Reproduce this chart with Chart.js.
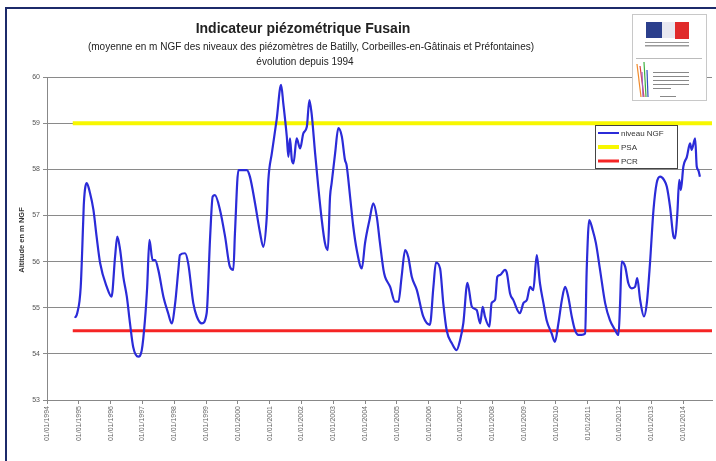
<!DOCTYPE html>
<html>
<head>
<meta charset="utf-8">
<script src="https://cdn.jsdelivr.net/npm/chart.js@4.4.1/dist/chart.umd.min.js"></script>
<style>
  html, body { margin: 0; padding: 0; background: #fff; }
  #wrap { width: 716px; height: 461px; position: relative; }
</style>
</head>
<body>
<div id="wrap"><canvas id="chart" width="716" height="461"></canvas></div>
<script>
// dates as decimal years, levels in m NGF
const dates = [
  1994.88, 1994.95, 1995.06, 1995.14, 1995.16, 1995.25, 1995.35, 1995.46, 1995.56, 1995.67,
  1995.88, 1996.03, 1996.14, 1996.21, 1996.30, 1996.40, 1996.51, 1996.61, 1996.71, 1996.87,
  1996.98, 1997.08, 1997.15, 1997.22, 1997.32, 1997.40, 1997.50, 1997.66, 1997.81, 1997.92,
  1998.03, 1998.13, 1998.18, 1998.34, 1998.44, 1998.60, 1998.71, 1998.87, 1999.02, 1999.13,
  1999.21, 1999.28, 1999.44, 1999.60, 1999.75, 1999.86, 1999.91, 2000.02, 2000.28, 2000.38,
  2000.54, 2000.70, 2000.80, 2000.91, 2000.96, 2001.07, 2001.22, 2001.36, 2001.43, 2001.54,
  2001.59, 2001.64, 2001.70, 2001.75, 2001.85, 2001.96, 2002.06, 2002.17, 2002.25, 2002.32,
  2002.43, 2002.53, 2002.64, 2002.74, 2002.83, 2002.90, 2002.95, 2003.06, 2003.16, 2003.27,
  2003.37, 2003.42, 2003.53, 2003.63, 2003.74, 2003.90, 2004.00, 2004.14, 2004.26, 2004.37,
  2004.47, 2004.58, 2004.63, 2004.79, 2004.94, 2005.05, 2005.15, 2005.26, 2005.36, 2005.47,
  2005.63, 2005.83, 2006.04, 2006.15, 2006.23, 2006.36, 2006.46, 2006.57, 2006.73, 2006.88,
  2006.99, 2007.09, 2007.22, 2007.36, 2007.51, 2007.62, 2007.70, 2007.77, 2007.91, 2007.98,
  2008.09, 2008.16, 2008.25, 2008.40, 2008.46, 2008.56, 2008.66, 2008.87, 2008.98, 2009.09,
  2009.19, 2009.29, 2009.40, 2009.50, 2009.61, 2009.71, 2009.87, 2009.97, 2010.08, 2010.19,
  2010.29, 2010.39, 2010.50, 2010.60, 2010.71, 2010.81, 2010.92, 2010.97, 2011.05, 2011.16,
  2011.26, 2011.39, 2011.55, 2011.70, 2011.86, 2011.97, 2012.02, 2012.07, 2012.18, 2012.28,
  2012.39, 2012.49, 2012.56, 2012.65, 2012.77, 2012.86, 2012.96, 2013.07, 2013.17, 2013.28,
  2013.40, 2013.49, 2013.59, 2013.70, 2013.75, 2013.82, 2013.88, 2013.93, 2014.01, 2014.12,
  2014.22, 2014.27, 2014.38, 2014.43, 2014.48, 2014.53
];
const niveauNGF = [
  54.78, 54.88, 55.45, 56.90, 57.27, 57.70, 57.49, 57.12, 56.54, 55.97,
  55.45, 55.24, 56.10, 56.54, 56.25, 55.67, 55.24, 54.66, 54.15, 53.94,
  54.08, 54.73, 55.45, 56.47, 56.03, 56.03, 55.82, 55.24, 54.88, 54.66,
  55.10, 55.82, 56.14, 56.18, 55.96, 55.10, 54.81, 54.66, 54.88, 56.54,
  57.41, 57.44, 57.12, 56.54, 55.89, 55.82, 56.62, 57.98, 57.98, 57.84,
  57.27, 56.62, 56.32, 56.97, 57.77, 58.35, 59.07, 59.83, 59.43, 58.71,
  58.27, 58.67, 58.20, 58.13, 58.67, 58.45, 58.78, 58.92, 59.50, 59.21,
  58.35, 57.62, 56.90, 56.40, 56.25, 57.41, 57.70, 58.35, 58.89, 58.71,
  58.20, 58.09, 57.41, 56.76, 56.25, 55.85, 56.40, 56.90, 57.26, 56.97,
  56.40, 55.82, 55.67, 55.45, 55.13, 55.13, 55.67, 56.25, 56.10, 55.67,
  55.38, 54.81, 54.63, 55.45, 55.98, 55.85, 55.10, 54.50, 54.23, 54.08,
  54.30, 54.66, 55.54, 55.02, 54.95, 54.66, 55.02, 54.81, 54.59, 55.10,
  55.17, 55.67, 55.71, 55.82, 55.75, 55.31, 55.17, 54.88, 55.10, 55.17,
  55.45, 55.38, 56.14, 55.53, 55.10, 54.73, 54.44, 54.26, 54.66, 55.17,
  55.45, 55.24, 54.81, 54.52, 54.41, 54.41, 54.44, 55.82, 56.90, 56.68,
  56.40, 55.82, 55.10, 54.73, 54.52, 54.41, 55.10, 56.00, 55.89, 55.53,
  55.42, 55.45, 55.64, 55.17, 54.81, 55.10, 55.96, 57.12, 57.70, 57.84,
  57.77, 57.62, 57.19, 56.54, 56.50, 57.04, 57.77, 57.55, 58.06, 58.27,
  58.56, 58.42, 58.67, 58.06, 57.98, 57.84
];
const thresholdDates = [1994.81, 2014.91];
const psaValues = [59, 59];
const pcrValues = [54.5, 54.5];
const yearTicks = [1994, 1995, 1996, 1997, 1998, 1999, 2000, 2001, 2002, 2003, 2004,
  2005, 2006, 2007, 2008, 2009, 2010, 2011, 2012, 2013, 2014];
const legendLabels = ['niveau NGF', 'PSA', 'PCR'];

const BLUE = '#2b2bd8';
const YELLOW = '#f7f700';
const RED = '#f52424';
const FONT = "'Liberation Sans', Arial, sans-serif";

const toPoints = (xs, ys) => xs.map((x, i) => ({ x, y: ys[i] }));

// titles, logo, in-plot legend and frame
const decor = {
  id: 'decor',
  afterDraw(chart) {
    const ctx = chart.ctx;
    ctx.save();
    ctx.fillStyle = '#222';
    ctx.textAlign = 'center';
    ctx.textBaseline = 'middle';
    ctx.font = `bold 14px ${FONT}`;
    ctx.fillText('Indicateur piézométrique Fusain', 303, 29);
    ctx.font = `10px ${FONT}`;
    ctx.fillText('(moyenne en m NGF des niveaux des piézomètres de Batilly, Corbeilles-en-Gâtinais et Préfontaines)', 311, 47);
    ctx.fillText('évolution depuis 1994', 305, 62);

    // y axis title
    ctx.save();
    ctx.translate(22, 240);
    ctx.rotate(-Math.PI / 2);
    ctx.font = `bold 7.5px ${FONT}`;
    ctx.fillStyle = '#333';
    ctx.fillText('Altitude en m NGF', 0, 0);
    ctx.restore();

    // logo
    ctx.fillStyle = '#fff';
    ctx.fillRect(632, 14, 74, 86);
    ctx.strokeStyle = '#c8c8c8';
    ctx.lineWidth = 1;
    ctx.strokeRect(632.5, 14.5, 74, 86);
    ctx.fillStyle = '#2b3f8c';
    ctx.fillRect(646, 22, 16, 16);
    ctx.fillStyle = '#e8e8f0';
    ctx.fillRect(662, 22, 13, 16);
    ctx.fillStyle = '#e02a2a';
    ctx.fillRect(675, 22, 14, 17);
    ctx.fillStyle = '#999';
    ctx.fillRect(645, 42, 44, 1);
    ctx.fillRect(645, 45, 44, 1.5);
    ctx.fillStyle = '#bbb';
    ctx.fillRect(636, 58, 66, 1);
    const strokes = [['#f08a2a', 637, 64, 641, 97], ['#e04040', 640, 66, 644, 97],
      ['#40b040', 644, 62, 646, 97], ['#3050c0', 647, 70, 648, 97], ['#a060c0', 642, 72, 643, 97]];
    ctx.lineWidth = 1.2;
    strokes.forEach(([c, x1, y1, x2, y2]) => {
      ctx.strokeStyle = c;
      ctx.beginPath();
      ctx.moveTo(x1, y1);
      ctx.lineTo(x2, y2);
      ctx.stroke();
    });
    ctx.fillStyle = '#888';
    [72, 76, 80, 84, 88].forEach((y, i) => ctx.fillRect(653, y, i === 4 ? 18 : 36, 1));
    ctx.fillRect(660, 96, 16, 1);

    // legend box
    const lx = 595, ly = 125, lw = 82, lh = 43;
    ctx.fillStyle = '#fff';
    ctx.fillRect(lx, ly, lw, lh);
    ctx.strokeStyle = '#444';
    ctx.lineWidth = 1;
    ctx.strokeRect(lx + 0.5, ly + 0.5, lw, lh);
    const colors = [BLUE, YELLOW, RED];
    const widths = [2, 4, 3];
    ctx.textAlign = 'left';
    ctx.font = `8px ${FONT}`;
    legendLabels.forEach((t, i) => {
      const y = ly + 8 + i * 14;
      ctx.strokeStyle = colors[i];
      ctx.lineWidth = widths[i];
      ctx.beginPath();
      ctx.moveTo(lx + 3, y);
      ctx.lineTo(lx + 24, y);
      ctx.stroke();
      ctx.fillStyle = '#333';
      ctx.fillText(t, lx + 26, y + 0.5);
    });

    // outer frame
    ctx.strokeStyle = '#1c2a6a';
    ctx.lineWidth = 2;
    ctx.strokeRect(6, 8, 720, 470);
    ctx.restore();
  }
};

new Chart(document.getElementById('chart'), {
  type: 'line',
  data: {
    datasets: [
      {
        label: legendLabels[0],
        data: toPoints(dates, niveauNGF),
        borderColor: BLUE,
        borderWidth: 2.2,
        pointRadius: 0,
        cubicInterpolationMode: 'monotone',
      },
      {
        label: legendLabels[1],
        data: toPoints(thresholdDates, psaValues),
        borderColor: YELLOW,
        borderWidth: 4,
        pointRadius: 0,
      },
      {
        label: legendLabels[2],
        data: toPoints(thresholdDates, pcrValues),
        borderColor: RED,
        borderWidth: 3,
        pointRadius: 0,
      },
    ],
  },
  options: {
    responsive: false,
    animation: false,
    layout: { padding: { left: 12, top: 77, right: 4, bottom: 0 } },
    scales: {
      x: {
        type: 'linear',
        min: 1994,
        max: 2014.91,
        afterBuildTicks: (scale) => { scale.ticks = yearTicks.map(v => ({ value: v })); },
        afterFit: (scale) => { scale.height = 61; },
        ticks: {
          callback: (v) => `01/01/${v}`,
          minRotation: 90,
          maxRotation: 90,
          autoSkip: false,
          padding: 2,
          color: '#666',
          font: { family: FONT, size: 7 },
        },
        grid: { drawOnChartArea: false, drawTicks: true, tickLength: 4, color: '#888' },
        border: { color: '#888', width: 1 },
      },
      y: {
        min: 53,
        max: 60,
        afterFit: (scale) => { scale.width = 35; },
        ticks: {
          stepSize: 1,
          padding: 3,
          color: '#555',
          font: { family: FONT, size: 7 },
        },
        grid: { color: '#8a8a8a', tickLength: 4, lineWidth: 1 },
        border: { color: '#888', width: 1 },
      },
    },
    plugins: {
      legend: { display: false },
      tooltip: { enabled: false },
    },
  },
  plugins: [decor],
});
</script>
</body>
</html>
